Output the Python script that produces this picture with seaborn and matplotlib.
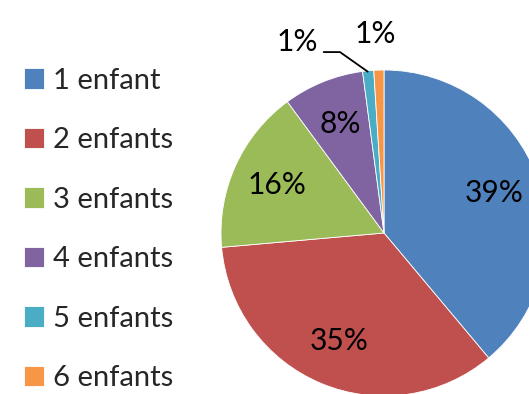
import matplotlib
matplotlib.use("Agg")
import matplotlib.pyplot as plt
import seaborn as sns

# data
labels = ["1 enfant", "2 enfants", "3 enfants", "4 enfants", "5 enfants", "6 enfants"]
shares = [38.9, 34.7, 16.3, 8.0, 1.1, 1.0]
colors = ["#4F81BD", "#C0504D", "#9BBB59", "#8064A2", "#4BACC6", "#F79646"]

sns.set_theme(style="white")
plt.rcParams["font.family"] = ["Lato", "DejaVu Sans"]

W, H = 529, 394
fig = plt.figure(figsize=(W / 100, H / 100), dpi=100)
# pie centre ~ (384, 233) px, radius ~163 px (clipped on the right/bottom)
cx, cy, r = 384, 233, 163
ax = fig.add_axes([(cx - r) / W, (H - cy - r) / H, 2 * r / W, 2 * r / H])

wedges, texts, autotexts = ax.pie(
    shares, colors=colors, startangle=90, counterclock=False,
    autopct=lambda p: f"{p:.0f}%", pctdistance=0.72,
    wedgeprops=dict(linewidth=0.6, edgecolor="white"),
    textprops=dict(fontsize=21.5, color="black"))
ax.set_xlim(-1, 1)
ax.set_ylim(-1, 1)

# small slices: labels outside
autotexts[4].set_position((-0.53, 1.17))
autotexts[5].set_position((-0.055, 1.22))
ax.plot([-0.10, -0.27, -0.37], [0.99, 1.11, 1.11], color="black", lw=1.3, clip_on=False)
for t in autotexts[4:]:
    t.set_clip_on(False)

fig.legend(wedges, labels, loc="upper left", bbox_to_anchor=(-0.005, 0.895),
           frameon=False, fontsize=21, labelspacing=1.15,
           handlelength=0.7, handleheight=0.7, handletextpad=0.3)

fig.savefig("out.png", dpi=100)
